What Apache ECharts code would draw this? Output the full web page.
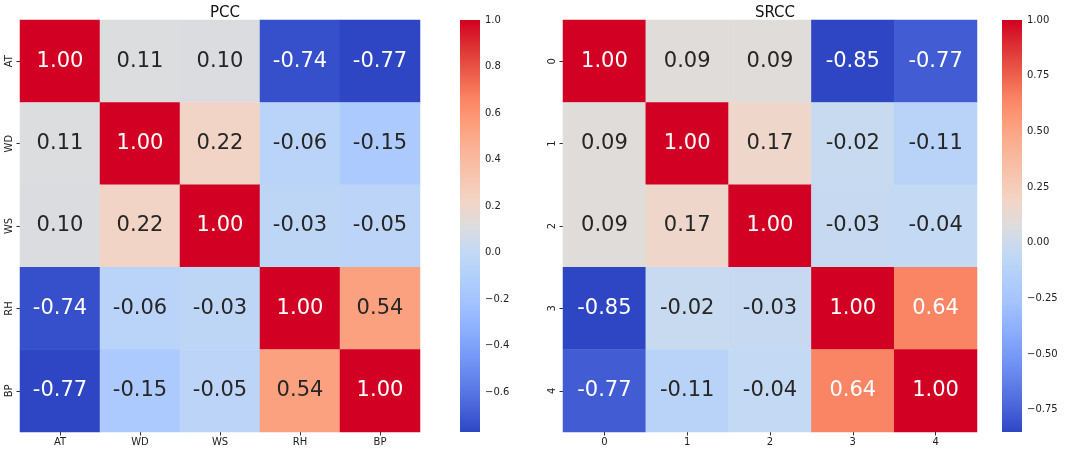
<!DOCTYPE html>
<html>
<head>
<meta charset="utf-8">
<script src="https://cdn.jsdelivr.net/npm/echarts@6/dist/echarts.min.js"></script>
<style>
  html, body { margin: 0; padding: 0; background: #fff; }
  #main { width: 1065px; height: 450px; }
</style>
</head>
<body>
<div id="main"></div>
<script>
// 数据
var pccLabels = ['AT', 'WD', 'WS', 'RH', 'BP'];
var srccLabels = ['0', '1', '2', '3', '4'];
var pccValues = [
  [1.00, 0.11, 0.10, -0.74, -0.77],
  [0.11, 1.00, 0.22, -0.06, -0.15],
  [0.10, 0.22, 1.00, -0.03, -0.05],
  [-0.74, -0.06, -0.03, 1.00, 0.54],
  [-0.77, -0.15, -0.05, 0.54, 1.00]
];
var srccValues = [
  [1.00, 0.09, 0.09, -0.85, -0.77],
  [0.09, 1.00, 0.17, -0.02, -0.11],
  [0.09, 0.17, 1.00, -0.03, -0.04],
  [-0.85, -0.02, -0.03, 1.00, 0.64],
  [-0.77, -0.11, -0.04, 0.64, 1.00]
];
var pccBarTicks = [1.0, 0.8, 0.6, 0.4, 0.2, 0.0, -0.2, -0.4, -0.6];
var srccBarTicks = [1.00, 0.75, 0.50, 0.25, 0.00, -0.25, -0.50, -0.75];

// coolwarm (色标, 略加饱和)
var coolwarm = ['#2f46c4', '#4a66da', '#6282ea', '#779af7', '#8db0fe', '#a3c2ff',
  '#b2cffb', '#c4d9f3', '#dddddd', '#f3d4c6', '#f7c4ad', '#f9b396', '#fc9e7c',
  '#fa8262', '#ea5a48', '#dc3034', '#d20022'];

var font = 'DejaVu Sans';

function toCells(values) {
  var out = [];
  for (var r = 0; r < values.length; r++) {
    for (var c = 0; c < values[r].length; c++) {
      var v = values[r][c];
      out.push({
        value: [c, r, v],
        label: { color: (v >= 0.6 || v <= -0.6) ? '#ffffff' : '#262626' }
      });
    }
  }
  return out;
}
function minOf(values) {
  var m = Infinity;
  values.forEach(function (row) { row.forEach(function (v) { m = Math.min(m, v); }); });
  return m;
}
function fmt(v, d) {
  var s = Math.abs(v).toFixed(d);
  return v < 0 ? '\u2212' + s : s;
}

var pccMin = minOf(pccValues), srccMin = minOf(srccValues);

var gradStops = coolwarm.map(function (c, i) {
  return { offset: i / (coolwarm.length - 1), color: c };
});

// 色条
function renderBar(params, api) {
  var topRight = api.coord([1, api.value(1)]);
  var botLeft = api.coord([0, api.value(0)]);
  return {
    type: 'rect',
    shape: { x: botLeft[0], y: topRight[1], width: topRight[0] - botLeft[0], height: botLeft[1] - topRight[1] },
    style: { fill: new echarts.graphic.LinearGradient(0, 1, 0, 0, gradStops) }
  };
}

var grids = [
  { left: 20, top: 20, width: 400, height: 412 },
  { left: 563, top: 20, width: 414, height: 412 },
  { left: 460, top: 20, width: 20, height: 412 },
  { left: 1002, top: 20, width: 20, height: 412 }
];

function catX(labels, gi) {
  return {
    type: 'category', gridIndex: gi, data: labels, position: 'bottom',
    axisLine: { show: false },
    axisTick: { show: true, alignWithLabel: true, length: 3.5, lineStyle: { color: '#333' } },
    axisLabel: { fontFamily: font, fontSize: 10, color: '#222', margin: 5 },
    splitLine: { show: false }, splitArea: { show: false }
  };
}
function catY(labels, gi) {
  return {
    type: 'category', gridIndex: gi, data: labels, inverse: true,
    axisLine: { show: false },
    axisTick: { show: true, alignWithLabel: true, length: 3.5, lineStyle: { color: '#333' } },
    axisLabel: { fontFamily: font, fontSize: 10, color: '#222', rotate: 90, margin: 6 },
    splitLine: { show: false }, splitArea: { show: false }
  };
}
function barAxis(gi, min, ticks, d) {
  return {
    type: 'value', gridIndex: gi, position: 'right', min: min, max: 1,
    axisLine: { show: false },
    axisTick: { show: true, inside: false, length: 3.5, customValues: ticks, lineStyle: { color: '#333' } },
    axisLabel: { customValues: ticks, fontFamily: font, fontSize: 10, color: '#222', margin: 5,
      formatter: function (v) { return fmt(v, d); } },
    splitLine: { show: false }
  };
}

var option = {
  animation: false,
  backgroundColor: '#ffffff',
  title: [
    { text: 'PCC', left: 220, top: 1, textAlign: 'center',
      textStyle: { fontFamily: font, fontSize: 15, fontWeight: 'normal', color: '#111' } },
    { text: 'SRCC', left: 770, top: 1, textAlign: 'center',
      textStyle: { fontFamily: font, fontSize: 15, fontWeight: 'normal', color: '#111' } }
  ],
  grid: grids,
  xAxis: [
    catX(pccLabels, 0),
    catX(srccLabels, 1),
    { type: 'value', gridIndex: 2, min: 0, max: 1, show: false },
    { type: 'value', gridIndex: 3, min: 0, max: 1, show: false }
  ],
  yAxis: [
    catY(pccLabels, 0),
    catY(srccLabels, 1),
    barAxis(2, pccMin, pccBarTicks, 1),
    barAxis(3, srccMin, srccBarTicks, 2)
  ],
  visualMap: [
    { type: 'continuous', show: false, seriesIndex: 0, min: pccMin, max: 1, inRange: { color: coolwarm } },
    { type: 'continuous', show: false, seriesIndex: 1, min: srccMin, max: 1, inRange: { color: coolwarm } }
  ],
  series: [
    { type: 'heatmap', xAxisIndex: 0, yAxisIndex: 0, data: toCells(pccValues),
      label: { show: true, fontFamily: font, fontSize: 21, formatter: function (p) { return p.value[2].toFixed(2); } },
      emphasis: { disabled: true } },
    { type: 'heatmap', xAxisIndex: 1, yAxisIndex: 1, data: toCells(srccValues),
      label: { show: true, fontFamily: font, fontSize: 21, formatter: function (p) { return p.value[2].toFixed(2); } },
      emphasis: { disabled: true } },
    { type: 'custom', xAxisIndex: 2, yAxisIndex: 2, data: [[pccMin, 1]], renderItem: renderBar, silent: true },
    { type: 'custom', xAxisIndex: 3, yAxisIndex: 3, data: [[srccMin, 1]], renderItem: renderBar, silent: true }
  ]
};

var chart = echarts.init(document.getElementById('main'));
chart.setOption(option);
</script>
</body>
</html>
